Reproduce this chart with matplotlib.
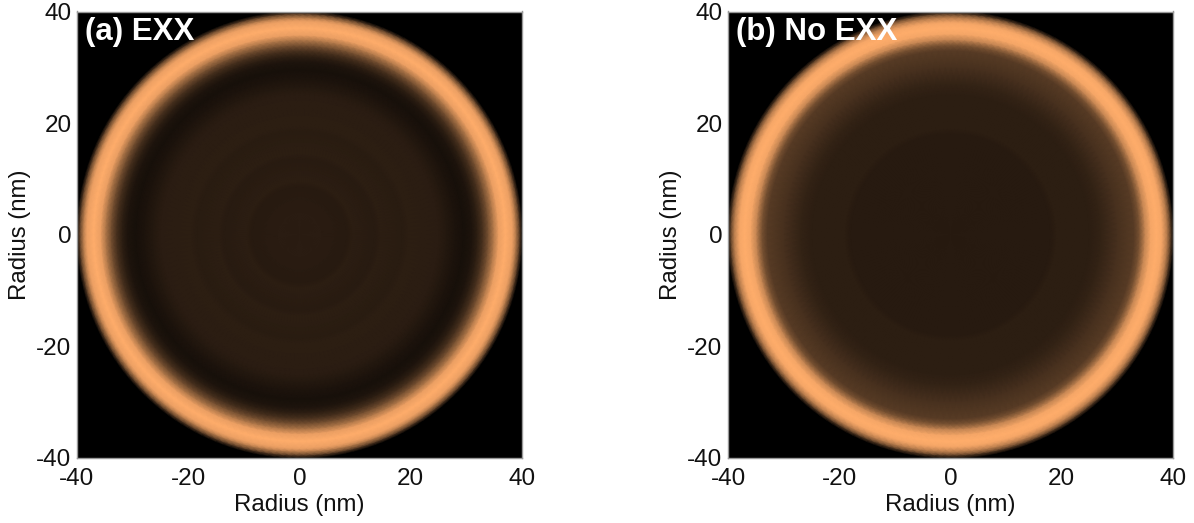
import numpy as np
import matplotlib
matplotlib.use('Agg')
import matplotlib.pyplot as plt
from matplotlib.colors import LinearSegmentedColormap

plt.rcParams['font.family'] = ['Liberation Sans', 'DejaVu Sans']
plt.rcParams['axes.unicode_minus'] = False

ticks = [-40, -20, 0, 20, 40]
axis_label = 'Radius (nm)'
titles = ['(a) EXX', '(b) No EXX']

# radial brightness profiles, centre to edge
radius_exx = [0, 4, 8.5, 9.5, 13.5, 14.5, 18.5, 19.5, 23, 25, 26.5, 28, 29.5, 31, 32, 33, 34, 35, 35.8, 37, 38.3, 39, 39.7, 40]
glow_exx = [.165, .165, .155, .172, .16, .175, .162, .175, .17, .165, .14, .11, .09, .12, .18, .29, .48, .72, .92, 1, .92, .66, .25, .04]
radius_no_exx = [0, 18, 19, 25, 27, 30, 33, 34, 35, 36, 37, 38, 39, 39.7, 40]
glow_no_exx = [.155, .155, .172, .175, .20, .28, .34, .48, .78, .96, 1, .96, .68, .26, .06]

peak_cmap = LinearSegmentedColormap.from_list('glow', ['#000000', '#ffad6b'])


def draw_panel(ax, radius, glow, title):
    # polar mesh, gouraud does the smoothing between the read radii
    theta = np.linspace(0, 2 * np.pi, 181)
    rr, tt = np.meshgrid(radius, theta)
    values = np.tile(glow, (len(theta), 1))
    ax.set_facecolor('black')
    ax.pcolormesh(rr * np.cos(tt), rr * np.sin(tt), values, shading='gouraud',
                  cmap=peak_cmap, vmin=0, vmax=1, antialiased=False)
    ax.set_xlim(-40, 40)
    ax.set_ylim(-40, 40)
    ax.set_xticks(ticks)
    ax.set_yticks(ticks)
    ax.tick_params(length=0, labelsize=17.5, colors='#111111')
    ax.tick_params(axis='x', pad=7)
    ax.tick_params(axis='y', pad=4)
    ax.set_xlabel(axis_label, fontsize=17.3, color='#111111', labelpad=3)
    ax.set_ylabel(axis_label, fontsize=17.3, color='#111111', labelpad=4)
    for spine in ax.spines.values():
        spine.set_color('#999999')
        spine.set_linewidth(1)
    ax.text(-38.6, 36.4, title, color='white', fontsize=22.5, fontweight='bold',
            ha='left', va='center')


fig = plt.figure(figsize=(11.94, 5.23), dpi=100)
W, H = 1194, 523
ax_a = fig.add_axes([77 / W, 1 - 458 / H, 445 / W, 446.5 / H])
ax_b = fig.add_axes([728 / W, 1 - 458 / H, 445 / W, 446.5 / H])
draw_panel(ax_a, radius_exx, glow_exx, titles[0])
draw_panel(ax_b, radius_no_exx, glow_no_exx, titles[1])

fig.savefig('out.png', dpi=100)
